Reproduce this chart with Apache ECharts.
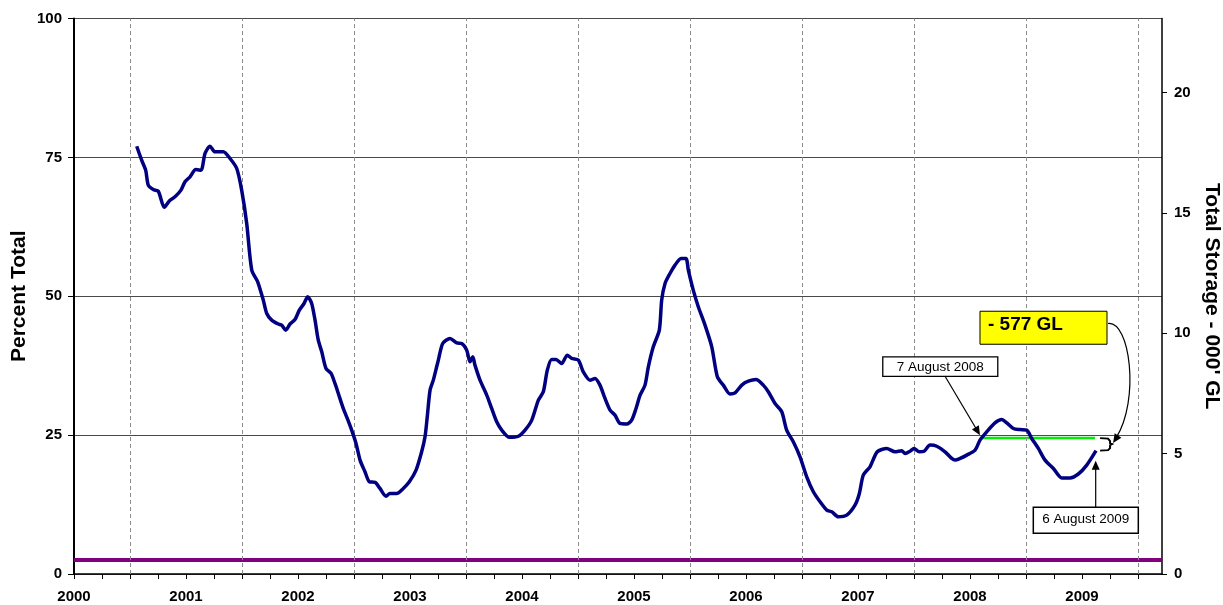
<!DOCTYPE html>
<html><head><meta charset="utf-8">
<script src="https://cdn.jsdelivr.net/npm/echarts@6/dist/echarts.min.js"></script>
<style>html,body{margin:0;padding:0;background:#fff}#c{width:1223px;height:605px}</style>
</head><body><div id="c"></div>
<script>
// ---- data ----
const storageYears = [
2000.560,2000.604,2000.640,2000.663,2000.708,2000.753,2000.806,2000.857,2000.902,2000.955,
2000.991,2001.036,2001.087,2001.134,2001.170,2001.214,2001.259,2001.333,2001.393,2001.453,
2001.497,2001.542,2001.587,2001.640,2001.690,2001.721,2001.765,2001.824,2001.854,2001.890,
2001.929,2001.973,2002.012,2002.054,2002.087,2002.122,2002.152,2002.181,2002.212,2002.250,
2002.295,2002.330,2002.360,2002.399,2002.440,2002.479,2002.518,2002.554,2002.598,2002.637,
2002.688,2002.732,2002.786,2002.821,2002.881,2002.940,2002.994,2003.054,2003.104,2003.134,
2003.154,2003.179,2003.208,2003.238,2003.253,2003.292,2003.357,2003.417,2003.462,2003.506,
2003.536,2003.560,2003.580,2003.625,2003.685,2003.729,2003.774,2003.819,2003.887,2003.967,
2004.027,2004.087,2004.146,2004.190,2004.226,2004.265,2004.304,2004.354,2004.404,2004.444,
2004.503,2004.547,2004.607,2004.652,2004.696,2004.741,2004.786,2004.830,2004.875,2004.935,
2004.979,2005.018,2005.054,2005.098,2005.128,2005.172,2005.226,2005.247,2005.277,2005.321,
2005.366,2005.420,2005.464,2005.485,2005.529,2005.574,2005.634,2005.694,2005.744,2005.797,
2005.857,2005.902,2005.962,2006.021,2006.089,2006.154,2006.199,2006.259,2006.319,2006.363,
2006.422,2006.482,2006.542,2006.601,2006.661,2006.721,2006.765,2006.824,2006.899,2006.973,
2007.012,2007.047,2007.107,2007.172,2007.256,2007.330,2007.390,2007.420,2007.464,2007.500,
2007.547,2007.589,2007.643,2007.703,2007.777,2007.837,2007.866,2007.911,2007.971,2008.045,
2008.089,2008.149,2008.223,2008.283,2008.328,2008.387,2008.446,2008.506,2008.551,2008.610,
2008.670,2008.744,2008.819,2008.893,2008.967,2009.042,2009.125
];
const storagePct = [
77.0,74.5,72.7,70.0,69.2,68.9,66.0,67.3,67.9,69.1,
70.6,71.5,72.8,72.7,75.7,77.0,76.0,76.0,74.8,73.0,
69.1,63.1,54.7,52.6,49.3,46.9,45.7,45.0,44.8,43.9,
45.0,45.8,47.5,48.7,49.9,48.7,45.7,42.1,40.0,37.0,
36.1,34.3,32.5,30.1,28.0,25.9,23.5,20.5,18.4,16.6,
16.5,15.4,14.0,14.5,14.5,15.4,16.6,18.7,22.0,24.7,
28.3,33.1,34.9,37.3,38.5,41.5,42.4,41.6,41.5,40.3,
38.2,39.1,37.6,34.9,32.2,29.8,27.4,25.9,24.6,24.8,
25.9,27.7,31.3,32.8,36.7,38.6,38.6,37.9,39.4,38.8,
38.5,36.4,34.9,35.2,34.0,31.6,29.5,28.6,27.1,27.0,
27.7,29.8,32.2,34.0,37.3,40.9,43.9,49.3,52.3,54.1,
55.6,56.8,56.8,54.7,51.1,48.1,44.8,40.9,35.5,34.0,
32.4,32.6,34.0,34.7,35.0,34.0,32.8,30.7,29.2,25.9,
23.8,21.1,17.5,14.8,13.0,11.5,11.2,10.3,10.6,12.4,
14.5,17.8,19.3,22.0,22.6,22.0,22.2,21.7,22.1,22.6,
22.0,22.1,23.2,23.0,22.0,20.8,20.5,20.8,21.4,22.3,
24.1,25.6,27.2,27.8,27.2,26.2,26.0,25.9,24.4,22.6,
20.5,19.0,17.3,17.3,18.0,19.6,22.2
];
const yearAxisRange = [2000, 2009.714];
const yearLabels = [2000,2001,2002,2003,2004,2005,2006,2007,2008,2009];
const midYearLines = [2000.5,2001.5,2002.5,2003.5,2004.5,2005.5,2006.5,2007.5,2008.5,2009.5];
const pctTicks = [0,25,50,75,100];
const storageTicks = [0,5,10,15,20];
const storageAxisMax = 23.08;
const reservePct = 2.5;                 // purple reference level
const aug2008Level = 24.5;              // green level line
const aug2008Span = [2008.104, 2009.116];

// annotation anchors (data space)
const noteAug2008 = { text: '7 August 2008', box: [2007.221, 39.1], from: [2007.777, 35.6], to: [2008.089, 25.0] };
const noteAug2009 = { text: '6 August 2009', box: [2008.565, 12.0], from: [2009.122, 12.0], to: [2009.122, 20.4] };
const noteLoss = { text: '- 577 GL', box: [2008.089, 47.3], from: [2009.232, 45.1], to: [2009.277, 23.6], bracket: [2009.161, 24.46] };

const FONT = '"Liberation Sans", Arial, Helvetica, sans-serif';
const chart = echarts.init(document.getElementById('c'), null, {renderer: 'canvas'});

chart.setOption({
  animation: false,
  backgroundColor: '#ffffff',
  grid: { left: 74, right: 61, top: 18.5, bottom: 31, containLabel: false, outerBoundsMode: 'none' },
  xAxis: {
    type: 'value', min: yearAxisRange[0], max: yearAxisRange[1], interval: 0.25,
    axisLine: { show: true, onZero: false, lineStyle: { color: '#000', width: 1.5 } },
    axisTick: { show: true, length: 5, lineStyle: { color: '#000', width: 1 } },
    axisLabel: {
      margin: 15, fontSize: 15, fontWeight: 'bold', fontFamily: FONT, color: '#000',
      showMaxLabel: false,
      formatter: v => { const r = Math.round(v); return (Math.abs(v - r) < 1e-6 && yearLabels.includes(r)) ? String(r) : ''; }
    },
    splitLine: { show: false }
  },
  yAxis: [{
    type: 'value', min: 0, max: 100, interval: 25, position: 'left',
    name: 'Percent Total', nameLocation: 'middle', nameGap: 44, nameRotate: 90, nameMoveOverlap: false,
    nameTextStyle: { fontSize: 21, fontWeight: 'bold', fontFamily: FONT, color: '#000' },
    axisLine: { show: true, lineStyle: { color: '#000', width: 2 } },
    axisTick: { show: true, length: 6, lineStyle: { color: '#000', width: 1 } },
    axisLabel: { margin: 12, fontSize: 15, fontWeight: 'bold', fontFamily: FONT, color: '#000',
      formatter: v => pctTicks.includes(v) ? String(v) : '' },
    splitLine: { show: true, lineStyle: { color: '#4a4a4a', width: 1 } }
  }, {
    type: 'value', min: 0, max: storageAxisMax, interval: 5, position: 'right',
    name: "Total Storage - 000' GL", nameLocation: 'middle', nameGap: 32, nameRotate: -90,
    nameTextStyle: { fontSize: 21, fontWeight: 'bold', fontFamily: FONT, color: '#000' },
    axisLine: { show: true, lineStyle: { color: '#000', width: 1.5 } },
    axisTick: { show: true, length: 5, customValues: storageTicks, lineStyle: { color: '#000', width: 1 } },
    axisLabel: { margin: 12, fontSize: 15, fontWeight: 'bold', fontFamily: FONT, color: '#000',
      customValues: storageTicks, formatter: v => storageTicks.includes(v) ? String(v) : '' },
    splitLine: { show: false }
  }],
  series: [{
    name: 'Storage', type: 'line', z: 5,
    data: storageYears.map((y, i) => [y, storagePct[i]]),
    showSymbol: false, smooth: 0.25,
    lineStyle: { color: '#000080', width: 3.5 }
  }, {
    name: 'Grid', type: 'line', z: 1, data: [],
    markLine: {
      silent: true, symbol: 'none', label: { show: false },
      lineStyle: { color: '#8c8c8c', type: [4, 3], width: 1 },
      data: midYearLines.map(v => ({ xAxis: v }))
    }
  }, {
    name: 'Reserve', type: 'line', z: 3, showSymbol: false,
    data: [[yearAxisRange[0], reservePct], [yearAxisRange[1], reservePct]],
    lineStyle: { color: '#800080', width: 4 }
  }, {
    name: 'Aug2008 level', type: 'line', z: 4, showSymbol: false,
    data: [[aug2008Span[0], aug2008Level], [aug2008Span[1], aug2008Level]],
    lineStyle: { color: '#00ee00', width: 2.5 }
  }]
});

// ---- annotations ----
const px = p => chart.convertToPixel({ seriesIndex: 0 }, p);
function head(tip, from, len, half) {
  const dx = tip[0] - from[0], dy = tip[1] - from[1], n = Math.hypot(dx, dy) || 1;
  const ux = dx / n, uy = dy / n, bx = tip[0] - ux * len, by = tip[1] - uy * len;
  return { type: 'polygon', z: 100, shape: { points: [tip, [bx - uy * half, by + ux * half], [bx + uy * half, by - ux * half]] }, style: { fill: '#000' } };
}
function straightArrow(a, b) {
  const A = px(a), B = px(b);
  const dx = B[0] - A[0], dy = B[1] - A[1], n = Math.hypot(dx, dy);
  const E = [B[0] - dx / n * 6, B[1] - dy / n * 6];
  return [
    { type: 'line', z: 100, shape: { x1: A[0], y1: A[1], x2: E[0], y2: E[1] }, style: { stroke: '#000', lineWidth: 1.2 } },
    head(B, A, 9, 4)
  ];
}
function boxText(note, w, h, fill, lw, font, align, tdx, tdy) {
  const P = px(note.box);
  return [
    { type: 'rect', z: 100, shape: { x: P[0], y: P[1], width: w, height: h }, style: { fill: fill, stroke: '#000', lineWidth: lw } },
    { type: 'text', z: 101, x: P[0] + tdx, y: P[1] + tdy,
      style: { text: note.text, font: font, fill: '#000', align: align, verticalAlign: 'middle', textAlign: align, textVerticalAlign: 'middle' } }
  ];
}
const g = [];
g.push(...straightArrow(noteAug2008.from, noteAug2008.to));
g.push(...boxText(noteAug2008, 115, 19.5, '#fff', 1.3, '13.5px ' + FONT, 'center', 57.5, 10));
g.push(...straightArrow(noteAug2009.from, noteAug2009.to));
g.push(...boxText(noteAug2009, 105, 26, '#fff', 1.5, '13.5px ' + FONT, 'center', 52.5, 12));
g.push(...boxText(noteLoss, 127, 33, '#ffff00', 1, 'bold 19px ' + FONT, 'left', 8, 14));
(function () {
  const A = px(noteLoss.from), B = px(noteLoss.to);
  const c1 = [A[0] + 22, A[1] - 3], c2 = [B[0] + 27, B[1] - 43];
  g.push({ type: 'bezierCurve', z: 100, shape: { x1: A[0], y1: A[1], cpx1: c1[0], cpy1: c1[1], cpx2: c2[0], cpy2: c2[1], x2: B[0] + 3, y2: B[1] - 5 }, style: { stroke: '#000', lineWidth: 1.2, fill: null } });
  g.push(head(B, [B[0] + 6, B[1] - 9], 9, 4));
  const K = px(noteLoss.bracket);
  const rel = [[0, 0], [8, 0.5], [10, 3], [10, 5], [12, 6], [10, 7], [10, 10], [8, 12], [0, 12.5]];
  g.push({ type: 'polyline', z: 100, shape: { points: rel.map(p => [K[0] + p[0], K[1] + p[1]]) }, style: { stroke: '#000', lineWidth: 2, fill: null } });
})();
chart.setOption({ graphic: g });
</script>
</body></html>
